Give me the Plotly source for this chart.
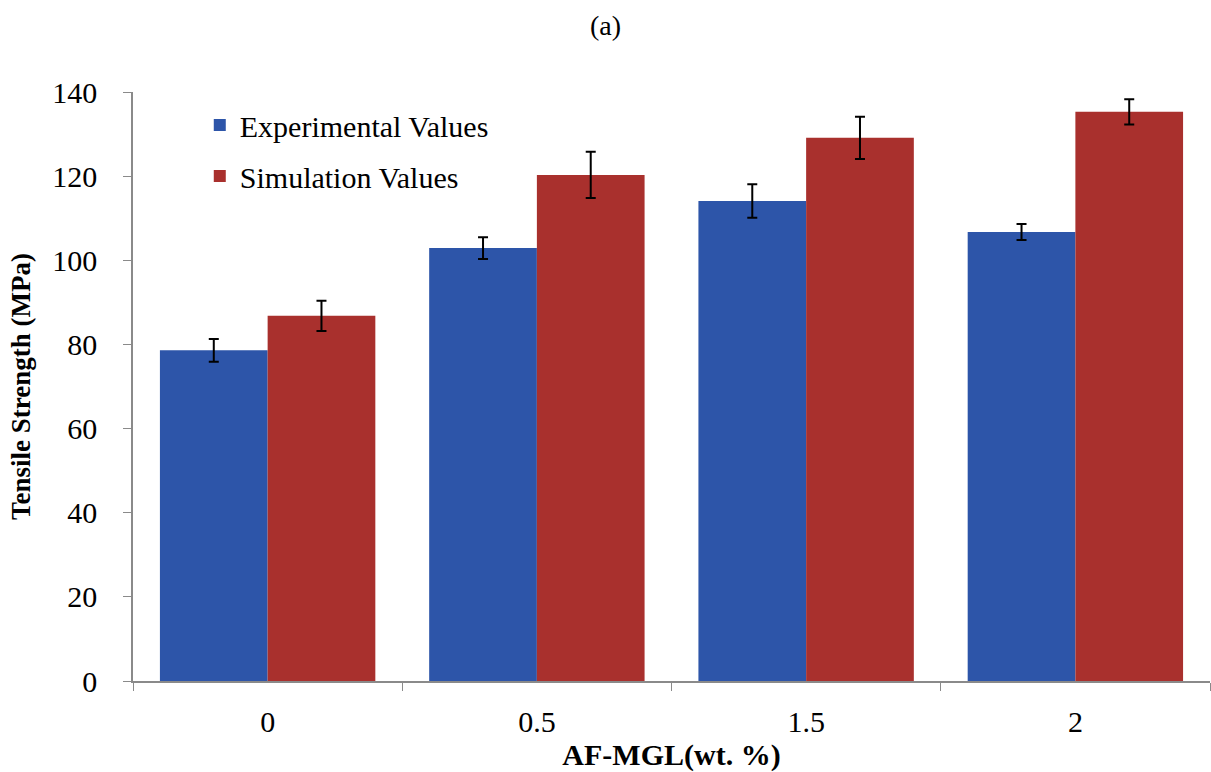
import plotly.graph_objects as go

categories = ["0", "0.5", "1.5", "2"]
exp_values = [78.6, 102.9, 114.1, 106.7]
exp_err = [2.7, 2.6, 4.0, 1.9]
sim_values = [86.8, 120.3, 129.1, 135.3]
sim_err = [3.6, 5.5, 5.0, 3.0]

serif = "Liberation Serif, Times New Roman, serif"

fig = go.Figure()
fig.add_trace(go.Bar(
    x=categories, y=exp_values, name="Experimental Values",
    marker=dict(color="#2D55A9", line=dict(width=0)),
    error_y=dict(type="data", array=exp_err, color="black", thickness=2, width=5),
    legend="legend", showlegend=True,
))
fig.add_trace(go.Bar(
    x=categories, y=sim_values, name="Simulation Values",
    marker=dict(color="#A9302D", line=dict(width=0)),
    error_y=dict(type="data", array=sim_err, color="black", thickness=2, width=5),
    legend="legend2", showlegend=True,
))

fig.update_layout(
    width=1211, height=772,
    paper_bgcolor="white", plot_bgcolor="white",
    margin=dict(l=133, r=1, t=92, b=91),
    barmode="group", bargap=0.2, bargroupgap=0,
    showlegend=True,
    font=dict(family=serif, color="black", size=24),
    title=dict(text="(a)", x=0.5, xanchor="center", y=0.968, yanchor="middle",
               font=dict(family=serif, size=28, color="black")),
    legend=dict(x=0.062, y=0.988, xanchor="left", yanchor="top",
                font=dict(family=serif, size=30, color="black"),
                bgcolor="rgba(0,0,0,0)"),
    legend2=dict(x=0.062, y=0.9015, xanchor="left", yanchor="top",
                 font=dict(family=serif, size=30, color="black"),
                 bgcolor="rgba(0,0,0,0)"),
    xaxis=dict(
        showline=True, linecolor="#8a8a8a", linewidth=1.5,
        ticks="outside", tickson="boundaries", ticklen=8, tickcolor="#8a8a8a",
        tickfont=dict(family=serif, size=30, color="black"),
        ticklabelstandoff=13,
        title=dict(text="<b>AF-MGL(wt. %)</b>", font=dict(family=serif, size=30, color="black"), standoff=10),
    ),
    yaxis=dict(
        range=[0, 140], tickvals=[0, 20, 40, 60, 80, 100, 120, 140],
        showline=True, linecolor="#8a8a8a", linewidth=1.5,
        ticks="outside", ticklen=8, tickcolor="#8a8a8a",
        showgrid=False, zeroline=False,
        tickfont=dict(family=serif, size=30, color="black"),
        ticklabelstandoff=20,
        title=dict(text="<b>Tensile Strength (MPa)</b>", font=dict(family=serif, size=27, color="black"), standoff=14),
    ),
)

fig.write_html("out.html")
